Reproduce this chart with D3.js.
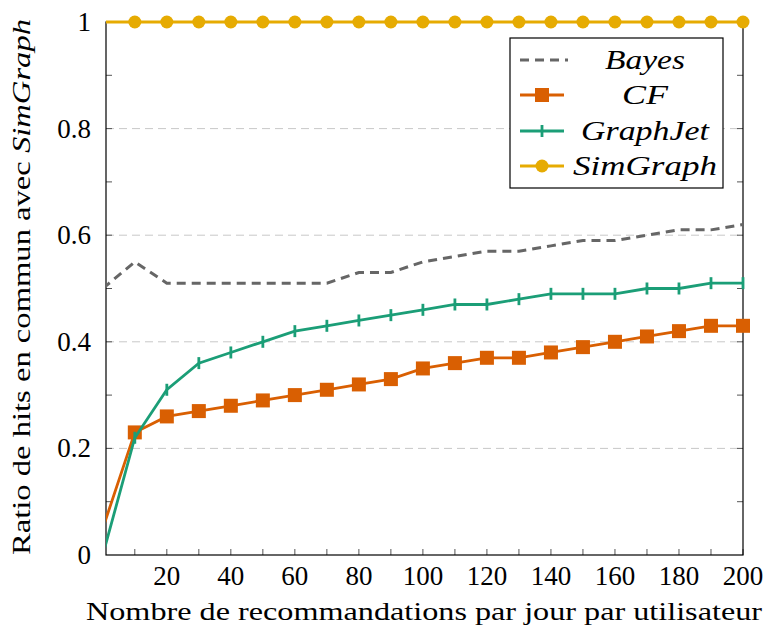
<!DOCTYPE html>
<html>
<head>
<meta charset="utf-8">
<script src="https://cdn.jsdelivr.net/npm/d3@7/dist/d3.min.js"></script>
<style>
  html, body { margin: 0; padding: 0; background: #fff; }
  svg { display: block; }
</style>
</head>
<body>
<script>
// Number of recommendations per day per user
const xValues = [0, 10, 20, 30, 40, 50, 60, 70, 80, 90, 100, 110, 120, 130, 140, 150, 160, 170, 180, 190, 200];
const bayes    = [0.50, 0.55, 0.51, 0.51, 0.51, 0.51, 0.51, 0.51, 0.53, 0.53, 0.55, 0.56, 0.57, 0.57, 0.58, 0.59, 0.59, 0.60, 0.61, 0.61, 0.62];
const cf       = [0.05, 0.23, 0.26, 0.27, 0.28, 0.29, 0.30, 0.31, 0.32, 0.33, 0.35, 0.36, 0.37, 0.37, 0.38, 0.39, 0.40, 0.41, 0.42, 0.43, 0.43];
const graphJet = [0.00, 0.22, 0.31, 0.36, 0.38, 0.40, 0.42, 0.43, 0.44, 0.45, 0.46, 0.47, 0.47, 0.48, 0.49, 0.49, 0.49, 0.50, 0.50, 0.51, 0.51];
const simGraph = [1, 1, 1, 1, 1, 1, 1, 1, 1, 1, 1, 1, 1, 1, 1, 1, 1, 1, 1, 1, 1];

const xTickLabels = [20, 40, 60, 80, 100, 120, 140, 160, 180, 200];
const xMinorTicks = [10, 20, 30, 40, 50, 60, 70, 80, 90, 100, 110, 120, 130, 140, 150, 160, 170, 180, 190, 200];
const yTickLabels = [0, 0.2, 0.4, 0.6, 0.8, 1];
const yMinorTicks = [0.1, 0.2, 0.3, 0.4, 0.5, 0.6, 0.7, 0.8, 0.9];
const yGrid = [0.2, 0.4, 0.6, 0.8];

const seriesNames = ["Bayes", "CF", "GraphJet", "SimGraph"];
const seriesColors = ["#666666", "#d95f02", "#1b9e77", "#e6ab02"];
const legendTextWidths = [80, 46, 128, 144];

const FONT = "'Liberation Serif', 'DejaVu Serif', 'Times New Roman', serif";
const W = 766, H = 628;
const m = { left: 106, right: 23, top: 22, bottom: 73 };

const svg = d3.select("body").append("svg").attr("width", W).attr("height", H)
  .attr("font-family", FONT);

const x = d3.scaleLinear().domain([1, 200]).range([m.left, W - m.right]);
const y = d3.scaleLinear().domain([0, 1]).range([H - m.bottom, m.top]);
const inDomain = v => v >= 1 && v <= 200;

svg.append("defs").append("clipPath").attr("id", "plot-clip")
  .append("rect").attr("x", x(1)).attr("y", y(1) - 10)
  .attr("width", x(200) - x(1) + 10).attr("height", y(0) - y(1) + 20);

// horizontal grid
svg.append("g").selectAll("line").data(yGrid).join("line")
  .attr("x1", x(1)).attr("x2", x(200))
  .attr("y1", d => y(d)).attr("y2", d => y(d))
  .attr("stroke", "#c8c8c8").attr("stroke-width", 1)
  .attr("stroke-dasharray", "8,5");

// inward ticks on all four sides
const tickLen = 6;
const ticks = svg.append("g").attr("stroke", "#555").attr("stroke-width", 1);
xMinorTicks.forEach(v => {
  ticks.append("line").attr("x1", x(v)).attr("x2", x(v)).attr("y1", y(0)).attr("y2", y(0) - tickLen);
  ticks.append("line").attr("x1", x(v)).attr("x2", x(v)).attr("y1", y(1)).attr("y2", y(1) + tickLen);
});
yMinorTicks.forEach(v => {
  ticks.append("line").attr("y1", y(v)).attr("y2", y(v)).attr("x1", x(1)).attr("x2", x(1) + tickLen);
  ticks.append("line").attr("y1", y(v)).attr("y2", y(v)).attr("x1", x(200)).attr("x2", x(200) - tickLen);
});

// frame
svg.append("rect")
  .attr("x", x(1)).attr("y", y(1))
  .attr("width", x(200) - x(1)).attr("height", y(0) - y(1))
  .attr("fill", "none").attr("stroke", "#000").attr("stroke-width", 1.2);

// tick labels
svg.append("g").selectAll("text").data(xTickLabels).join("text")
  .attr("x", d => x(d)).attr("y", y(0) + 30)
  .attr("text-anchor", "middle").attr("font-size", 27)
  .text(d => d);
svg.append("g").selectAll("text").data(yTickLabels).join("text")
  .attr("x", x(1) - 15).attr("y", d => y(d) + 9)
  .attr("text-anchor", "end").attr("font-size", 27)
  .text(d => d);

// axis titles
svg.append("text")
  .attr("x", 424).attr("y", 620)
  .attr("text-anchor", "middle").attr("font-size", 26)
  .attr("textLength", 676).attr("lengthAdjust", "spacingAndGlyphs")
  .text("Nombre de recommandations par jour par utilisateur");

const yl = svg.append("text")
  .attr("transform", "translate(30,287) rotate(-90)")
  .attr("text-anchor", "middle").attr("font-size", 26)
  .attr("textLength", 536).attr("lengthAdjust", "spacingAndGlyphs");
yl.append("tspan").text("Ratio de hits en commun avec ");
yl.append("tspan").attr("font-style", "italic").text("SimGraph");

// series
const line = d3.line().x((d, i) => x(xValues[i])).y(d => y(d));
const plot = svg.append("g").attr("clip-path", "url(#plot-clip)");
const pts = arr => arr.map((v, i) => ({ x: xValues[i], v })).filter(p => inDomain(p.x));

// Bayes: dashed, no markers
plot.append("path").datum(bayes).attr("d", line)
  .attr("fill", "none").attr("stroke", seriesColors[0]).attr("stroke-width", 3)
  .attr("stroke-dasharray", "9,6");

// CF: squares
plot.append("path").datum(cf).attr("d", line)
  .attr("fill", "none").attr("stroke", seriesColors[1]).attr("stroke-width", 2.8);
plot.append("g").selectAll("rect").data(pts(cf)).join("rect")
  .attr("x", p => x(p.x) - 7).attr("y", p => y(p.v) - 7)
  .attr("width", 14).attr("height", 14).attr("fill", seriesColors[1]);

// GraphJet: vertical bar marks
plot.append("path").datum(graphJet).attr("d", line)
  .attr("fill", "none").attr("stroke", seriesColors[2]).attr("stroke-width", 2.8);
plot.append("g").selectAll("line").data(pts(graphJet)).join("line")
  .attr("x1", p => x(p.x)).attr("x2", p => x(p.x))
  .attr("y1", p => y(p.v) - 6).attr("y2", p => y(p.v) + 6)
  .attr("stroke", seriesColors[2]).attr("stroke-width", 2.8);

// SimGraph: circles
plot.append("path").datum(simGraph).attr("d", line)
  .attr("fill", "none").attr("stroke", seriesColors[3]).attr("stroke-width", 2.8);
plot.append("g").selectAll("circle").data(pts(simGraph)).join("circle")
  .attr("cx", p => x(p.x)).attr("cy", p => y(p.v))
  .attr("r", 6.5).attr("fill", seriesColors[3]);

// legend
const lg = svg.append("g").attr("transform", "translate(510,38)");
lg.append("rect").attr("width", 213).attr("height", 150)
  .attr("fill", "#fff").attr("stroke", "#000").attr("stroke-width", 1.2);
const rowY = [22, 57, 93, 128];
seriesNames.forEach((name, i) => {
  const ry = rowY[i];
  const ln = lg.append("line").attr("x1", 10).attr("x2", 54).attr("y1", ry).attr("y2", ry)
    .attr("stroke", seriesColors[i]).attr("stroke-width", i === 0 ? 3 : 2.8);
  if (i === 0) ln.attr("x1", 10).attr("x2", 58).attr("stroke-dasharray", "9,6");
  if (i === 1) lg.append("rect").attr("x", 32 - 7).attr("y", ry - 7).attr("width", 14).attr("height", 14).attr("fill", seriesColors[1]);
  if (i === 2) lg.append("line").attr("x1", 32).attr("x2", 32).attr("y1", ry - 6).attr("y2", ry + 6)
    .attr("stroke", seriesColors[2]).attr("stroke-width", 2.8);
  if (i === 3) lg.append("circle").attr("cx", 32).attr("cy", ry).attr("r", 6.5).attr("fill", seriesColors[3]);
  lg.append("text").attr("x", 135).attr("y", ry + 9)
    .attr("text-anchor", "middle").attr("font-size", 27).attr("font-style", "italic")
    .attr("textLength", legendTextWidths[i]).attr("lengthAdjust", "spacingAndGlyphs")
    .text(name);
});
</script>
</body>
</html>
